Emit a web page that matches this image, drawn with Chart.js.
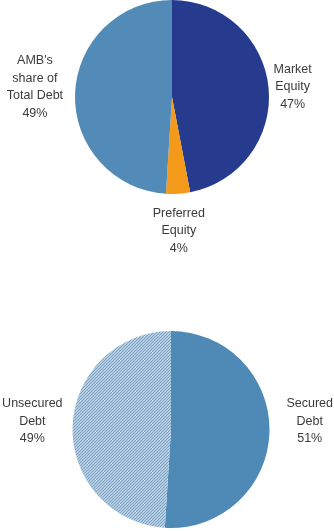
<!DOCTYPE html>
<html>
<head>
<meta charset="utf-8">
<script src="https://cdn.jsdelivr.net/npm/chart.js@4"></script>
<style>
  body { margin: 0; background: #fff; }
  .wrap { position: absolute; left: 0; width: 334px; }
  #capWrap { top: 0; height: 260px; }
  #debtWrap { top: 300px; height: 231px; }
</style>
</head>
<body>
<div class="wrap" id="capWrap"><canvas id="capital"></canvas></div>
<div class="wrap" id="debtWrap"><canvas id="debt"></canvas></div>
<script>
// Data definitions
const capitalLabels = [['Market', 'Equity'], ['Preferred', 'Equity'], ["AMB's", 'share of', 'Total Debt']];
const capitalValues = [47, 4, 49];
const debtLabels = [['Secured', 'Debt'], ['Unsecured', 'Debt']];
const debtValues = [51, 49];

// diagonal hatch for unsecured debt
function makeHatch() {
  const c = document.createElement('canvas');
  c.width = 3; c.height = 3;
  const g = c.getContext('2d');
  g.fillStyle = '#d0deea';
  g.fillRect(0, 0, 3, 3);
  g.strokeStyle = '#7aa3c8';
  g.lineWidth = 1.2;
  g.beginPath();
  g.moveTo(-1, 4); g.lineTo(4, -1);
  g.moveTo(-1, 1); g.lineTo(1, -1);
  g.moveTo(2, 4); g.lineTo(4, 2);
  g.stroke();
  return g.createPattern(c, 'repeat');
}

// Outside labels: name lines plus percentage, placed next to each slice
const outsideLabels = {
  id: 'outsideLabels',
  afterDatasetsDraw(chart, args, opts) {
    const ctx = chart.ctx;
    const ds = chart.data.datasets[0];
    const meta = chart.getDatasetMeta(0);
    const lineH = 17.5;
    ctx.save();
    ctx.font = '12.5px "Liberation Sans", Arial, sans-serif';
    ctx.fillStyle = '#3a3a3a';
    ctx.textBaseline = 'middle';
    meta.data.forEach((arc, i) => {
      const p = arc.getProps(['x', 'y', 'startAngle', 'endAngle', 'outerRadius'], true);
      const mid = (p.startAngle + p.endAngle) / 2;
      const gap = (opts.gaps && opts.gaps[i]) || 10;
      const ax = p.x + Math.cos(mid) * (p.outerRadius + gap);
      const ay = p.y + Math.sin(mid) * (p.outerRadius + gap);
      const lines = chart.data.labels[i].concat([ds.data[i] + '%']);
      const widths = lines.map(l => ctx.measureText(l).width);
      const w = Math.max.apply(null, widths);
      const h = lines.length * lineH;
      let cx, top;
      if (Math.abs(Math.cos(mid)) > 0.7) {
        cx = Math.cos(mid) > 0 ? ax + w / 2 : ax - w / 2;
        top = p.y - h / 2 + (opts.shiftY || 0);
      } else {
        cx = ax;
        top = Math.sin(mid) > 0 ? ay : ay - h;
      }
      ctx.textAlign = 'center';
      lines.forEach((l, k) => ctx.fillText(l, cx, top + lineH * (k + 0.5)));
    });
    ctx.restore();
  }
};

const baseOptions = (padding, labelOpts) => ({
  responsive: true,
  maintainAspectRatio: false,
  animation: false,
  layout: { padding: padding },
  plugins: {
    legend: { display: false },
    tooltip: { enabled: false },
    outsideLabels: labelOpts
  }
});

new Chart(document.getElementById('capital'), {
  type: 'pie',
  data: {
    labels: capitalLabels,
    datasets: [{
      data: capitalValues,
      backgroundColor: ['#263b8d', '#f39a1a', '#528bb7'],
      borderWidth: 0
    }]
  },
  options: baseOptions({ left: 75, right: 65, top: 0, bottom: 66 }, { gaps: [5, 11, 12], shiftY: -10 }),
  plugins: [outsideLabels]
});

new Chart(document.getElementById('debt'), {
  type: 'pie',
  data: {
    labels: debtLabels,
    datasets: [{
      data: debtValues,
      backgroundColor: ['#4f8ab6', makeHatch()],
      borderWidth: 0
    }]
  },
  options: baseOptions({ left: 72, right: 64, top: 31, bottom: 3 }, { gaps: [17, 10], shiftY: -8 }),
  plugins: [outsideLabels]
});
</script>
</body>
</html>
